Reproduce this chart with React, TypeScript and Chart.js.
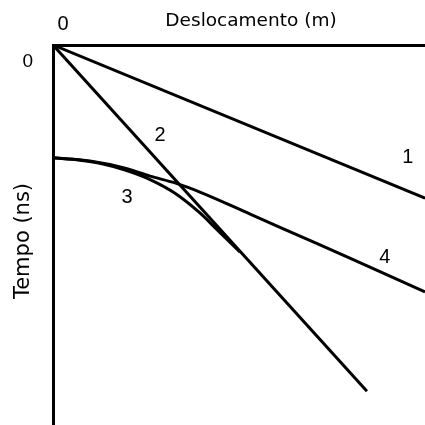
import React, { useEffect, useRef } from 'react';
import { Chart, registerables } from 'chart.js';

Chart.register(...registerables);

// ---- Text ----
const xTitle = 'Deslocamento (m)';
const yTitle = 'Tempo (ns)';

// ---- Axis ranges and ticks (arbitrary units) ----
const xRange = [0, 100];
const yRange = [0, 100];
const tickValues = [0];

// ---- Series (x = displacement, y = time, arbitrary units) ----
// 1: direct air wave
const line1X = [0, 100];
const line1Y = [0, 40.3];
// 2: direct ground wave
const line2X = [0, 84.4];
const line2Y = [0, 91.1];
// 3: reflected wave (hyperbola)
const curve3X = [0, 7.3, 12.6, 19.4, 26.1, 32.8, 39.5, 44.1, 50.3];
const curve3Y = [29.7, 30.3, 31.1, 32.9, 35.4, 39.0, 44.2, 48.6, 54.5];
// 4: refracted wave
const curve4X = [0, 9.9, 19.4, 26.1, 32.8, 39.5, 53.0, 66.4, 79.8, 100];
const curve4Y = [29.7, 30.5, 32.4, 34.5, 36.3, 38.7, 44.5, 50.3, 56.1, 65.0];

// ---- Curve labels (anchored in data units) ----
const curveLabelText = ['1', '2', '3', '4'];
const curveLabelX = [95.4, 28.8, 19.9, 89.2];
const curveLabelY = [29.5, 23.7, 40.0, 55.8];

const DIGIT_FONT = '"Liberation Sans", Arial, Helvetica, sans-serif';
const TITLE_FONT = '"DejaVu Sans", "Liberation Sans", Arial, sans-serif';

const toPoints = (xs: number[], ys: number[]) => xs.map((x, i) => ({ x, y: ys[i] }));

const zeroPadding = (s: any) => {
  s.paddingTop = 0;
  s.paddingBottom = 0;
  s.paddingLeft = 0;
  s.paddingRight = 0;
};

const textPlugin = {
  id: 'textPlugin',
  afterDatasetsDraw(chart: any) {
    const { ctx, chartArea: ca } = chart;
    const xs = chart.scales.x;
    const ys = chart.scales.y;
    ctx.save();
    ctx.fillStyle = '#000';
    ctx.textAlign = 'center';
    ctx.textBaseline = 'middle';
    ctx.font = `20px ${DIGIT_FONT}`;
    curveLabelText.forEach((t, i) => {
      ctx.fillText(t, xs.getPixelForValue(curveLabelX[i]), ys.getPixelForValue(curveLabelY[i]));
    });
    // axis titles
    ctx.font = `18.5px ${TITLE_FONT}`;
    ctx.fillText(xTitle, ca.left + 198, ca.top - 24);
    ctx.translate(24, (ca.top + ca.bottom) / 2 + 6);
    ctx.rotate(-Math.PI / 2);
    ctx.font = `21px ${TITLE_FONT}`;
    ctx.fillText(yTitle, 0, 0);
    ctx.restore();
  },
};

export default function App() {
  const canvasRef = useRef<HTMLCanvasElement | null>(null);

  useEffect(() => {
    const canvas = canvasRef.current;
    if (!canvas) return;
    const lineStyle = {
      showLine: true,
      borderColor: '#000',
      backgroundColor: '#000',
      borderWidth: 3,
      pointRadius: 0,
      fill: false,
    };
    const chart = new Chart(canvas, {
      type: 'scatter',
      data: {
        datasets: [
          { ...lineStyle, label: '1', data: toPoints(line1X, line1Y) },
          { ...lineStyle, label: '2', data: toPoints(line2X, line2Y) },
          { ...lineStyle, label: '3', data: toPoints(curve3X, curve3Y), cubicInterpolationMode: 'monotone' },
          { ...lineStyle, label: '4', data: toPoints(curve4X, curve4Y), cubicInterpolationMode: 'monotone' },
        ] as any,
      },
      options: {
        responsive: false,
        animation: false,
        layout: { padding: 0 },
        plugins: {
          legend: { display: false },
          tooltip: { enabled: false },
        },
        scales: {
          x: {
            type: 'linear',
            position: 'top',
            min: xRange[0],
            max: xRange[1],
            grid: { display: false, drawTicks: false },
            border: { display: true, color: '#000', width: 3 },
            ticks: {
              color: '#000',
              font: { family: DIGIT_FONT, size: 20 },
              padding: 9,
              labelOffset: 10,
              autoSkip: false,
            },
            afterBuildTicks: (s: any) => {
              s.ticks = tickValues.map((v) => ({ value: v }));
            },
            afterFit: (s: any) => {
              s.height = 45;
              zeroPadding(s);
            },
          },
          y: {
            type: 'linear',
            position: 'left',
            reverse: true,
            min: yRange[0],
            max: yRange[1],
            grid: { display: false, drawTicks: false },
            border: { display: true, color: '#000', width: 3 },
            ticks: {
              color: '#000',
              font: { family: DIGIT_FONT, size: 19 },
              padding: 20,
              labelOffset: 17,
              autoSkip: false,
            },
            afterBuildTicks: (s: any) => {
              s.ticks = tickValues.map((v) => ({ value: v }));
            },
            afterFit: (s: any) => {
              s.width = 53;
              zeroPadding(s);
            },
          },
        } as any,
      },
      plugins: [textPlugin],
    });
    return () => chart.destroy();
  }, []);

  return (
    <div style={{ position: 'fixed', left: 0, top: 0, width: 425, height: 425, background: '#fff' }}>
      <canvas ref={canvasRef} width={425} height={425} style={{ display: 'block' }} />
    </div>
  );
}
